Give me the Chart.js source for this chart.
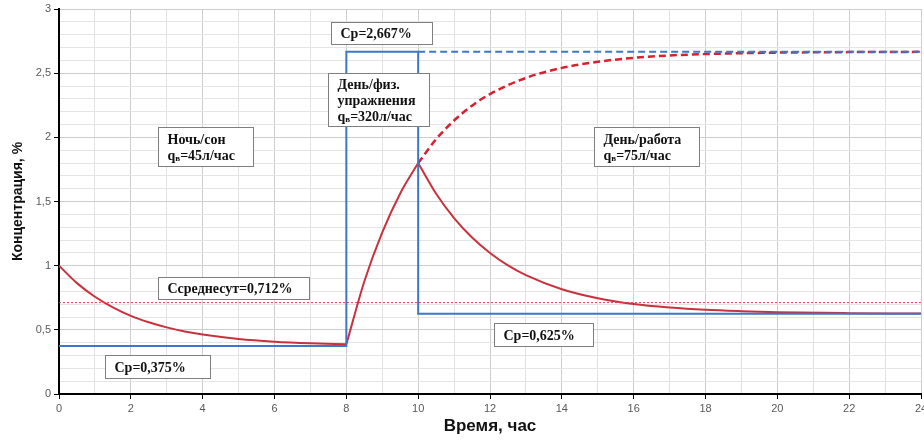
<!DOCTYPE html>
<html>
<head>
<meta charset="utf-8">
<script src="https://cdn.jsdelivr.net/npm/chart.js@4.4.0/dist/chart.umd.min.js"></script>
<style>
    body { margin: 0; background: #fff; }
    #wrap { width: 924px; height: 441px; }
</style>
</head>
<body>
<div id="wrap"><canvas id="concChart" width="924" height="441"></canvas></div>
<script>
// Night / sleep decay (0-8 h)
const nightHours = [0, 0.5, 1, 1.5, 2, 2.5, 3, 3.5, 4, 5, 6, 7, 8];
const nightConc = [1.0, 0.864, 0.758, 0.675, 0.609, 0.559, 0.519, 0.487, 0.463, 0.429, 0.408, 0.395, 0.387];

// Exercise rise (8-10 h)
const riseHours = [8, 8.5, 9, 9.5, 10];
const riseConc = [0.387, 0.877, 1.26, 1.563, 1.8];

// Rise continued if exercise went on (dashed)
const contHours = [10, 10.5, 11, 11.5, 12, 13, 14, 15, 16, 17, 18, 20, 22, 24];
const contConc = [1.8, 1.986, 2.131, 2.247, 2.337, 2.463, 2.541, 2.589, 2.619, 2.638, 2.649, 2.66, 2.664, 2.666];

// Day / work decay (10-24 h)
const dayHours = [10, 10.5, 11, 11.5, 12, 12.5, 13, 14, 15, 16, 17, 18, 19, 20, 22, 24];
const dayConc = [1.8, 1.561, 1.371, 1.219, 1.099, 1.002, 0.926, 0.816, 0.746, 0.701, 0.674, 0.656, 0.645, 0.637, 0.63, 0.627];

// Equilibrium concentration Cp (step)
const stepHours = [0, 8, 8, 10, 10, 24];
const stepConc = [0.375, 0.375, 2.667, 2.667, 0.625, 0.625];
const cpDashHours = [10, 24];
const cpDashConc = [2.667, 2.667];

// Daily average
const avgHours = [0, 24];
const avgConc = [0.712, 0.712];

const toPoints = (xs, ys) => xs.map((x, i) => ({ x: x, y: ys[i] }));

const RED = '#c9323d';
const BLUE = '#3b78c8';

// Text boxes: x,y = top-left corner in data units, w,h in px
const notes = [
    { x: 2.76, y: 2.08, w: 95, h: 39, lines: [[['Ночь/сон', 0]], [['q', 0], ['в', 1], ['=45л/час', 0]]] },
    { x: 7.57, y: 2.90, w: 101, h: 22, lines: [[['Cp=2,667%', 0]]] },
    { x: 7.49, y: 2.50, w: 101, h: 53, lines: [[['День/физ.', 0]], [['упражнения', 0]], [['q', 0], ['в', 1], ['=320л/час', 0]]] },
    { x: 14.89, y: 2.08, w: 105, h: 39, lines: [[['День/работа', 0]], [['q', 0], ['в', 1], ['=75л/час', 0]]] },
    { x: 2.76, y: 0.912, w: 151, h: 22, lines: [[['Cсреднесут=0,712%', 0]]] },
    { x: 1.28, y: 0.304, w: 105, h: 23, lines: [[['Cp=0,375%', 0]]] },
    { x: 12.11, y: 0.553, w: 99, h: 23, lines: [[['Cp=0,625%', 0]]] }
];

const notesPlugin = {
    id: 'notes',
    afterDatasetsDraw(chart) {
        const ctx = chart.ctx;
        const xs = chart.scales.x, ys = chart.scales.y;
        const lineH = 16;
        ctx.save();
        notes.forEach(n => {
            const px = Math.round(xs.getPixelForValue(n.x)) + 0.5;
            const py = Math.round(ys.getPixelForValue(n.y)) + 0.5;
            ctx.fillStyle = '#fff';
            ctx.fillRect(px, py, n.w, n.h);
            ctx.strokeStyle = '#7f7f7f';
            ctx.lineWidth = 1;
            ctx.strokeRect(px, py, n.w, n.h);
            const totalH = n.lines.length * lineH;
            let ty = py + (n.h - totalH) / 2 + lineH / 2 + 1;
            ctx.textBaseline = 'middle';
            ctx.fillStyle = '#111';
            n.lines.forEach(segs => {
                let tx = px + 9;
                segs.forEach(([t, sub]) => {
                    ctx.font = sub ? 'bold 9px "Liberation Serif"' : 'bold 14px "Liberation Serif"';
                    ctx.fillText(t, tx, sub ? ty + 3 : ty);
                    tx += ctx.measureText(t).width;
                });
                ty += lineH;
            });
        });
        ctx.restore();
    }
};

new Chart(document.getElementById('concChart'), {
    type: 'line',
    data: {
        datasets: [
            { data: toPoints(avgHours, avgConc), borderColor: '#e0404a', borderWidth: 1, borderDash: [2, 2] },
            { data: toPoints(stepHours, stepConc), borderColor: BLUE, borderWidth: 2 },
            { data: toPoints(cpDashHours, cpDashConc), borderColor: BLUE, borderWidth: 2, borderDash: [7, 4] },
            { data: toPoints(contHours, contConc), borderColor: '#d8202e', borderWidth: 2.5, borderDash: [7, 4], cubicInterpolationMode: 'monotone' },
            { data: toPoints(nightHours, nightConc), borderColor: RED, borderWidth: 2, cubicInterpolationMode: 'monotone' },
            { data: toPoints(riseHours, riseConc), borderColor: RED, borderWidth: 2, cubicInterpolationMode: 'monotone' },
            { data: toPoints(dayHours, dayConc), borderColor: RED, borderWidth: 2, cubicInterpolationMode: 'monotone' }
        ]
    },
    options: {
        responsive: false,
        animation: false,
        parsing: false,
        elements: { point: { radius: 0 } },
        layout: { autoPadding: false, padding: { top: 9, right: 3, left: 0, bottom: 0 } },
        plugins: {
            legend: { display: false },
            tooltip: { enabled: false }
        },
        scales: {
            x: {
                type: 'linear',
                min: 0,
                max: 24,
                // let the "24" label run off the edge like in the original
                afterFit: s => { s.height = 47; s.paddingLeft = 0; s.paddingRight = 0; },
                border: { color: '#000', width: 2 },
                grid: {
                    color: c => (c.tick.value % 2 === 0 ? '#cdcdcd' : '#e2e2e2'),
                    tickColor: c => (c.tick.value % 2 === 0 ? '#000' : 'rgba(0,0,0,0)'),
                    tickLength: 5
                },
                ticks: {
                    stepSize: 1,
                    autoSkip: false,
                    maxRotation: 0,
                    padding: 3,
                    color: '#595959',
                    font: { family: 'Liberation Sans', size: 11 },
                    callback: v => (v % 2 === 0 ? String(v) : '')
                },
                title: {
                    display: true,
                    text: 'Время, час',
                    color: '#111',
                    font: { family: 'Liberation Sans', size: 17, weight: 'bold' },
                    padding: { top: 3 }
                }
            },
            y: {
                min: 0,
                max: 3,
                afterFit: s => { s.width = 59; s.paddingTop = 0; s.paddingBottom = 0; },
                border: { color: '#000', width: 2 },
                grid: {
                    color: c => (Math.round(c.tick.value * 10) % 5 === 0 ? '#cdcdcd' : '#e4e4e4'),
                    tickColor: c => (Math.round(c.tick.value * 10) % 5 === 0 ? '#000' : 'rgba(0,0,0,0)'),
                    tickLength: 5
                },
                ticks: {
                    stepSize: 0.1,
                    autoSkip: false,
                    padding: 3,
                    color: '#595959',
                    font: { family: 'Liberation Sans', size: 11 },
                    callback: v => {
                        const t = Math.round(v * 10);
                        return t % 5 === 0 ? String(t / 10).replace('.', ',') : '';
                    }
                },
                title: {
                    display: true,
                    text: 'Концентрация, %',
                    color: '#111',
                    font: { family: 'Liberation Sans', size: 14, weight: 'bold' },
                    padding: { top: 10, bottom: 0 }
                }
            }
        }
    },
    plugins: [notesPlugin]
});
</script>
</body>
</html>
